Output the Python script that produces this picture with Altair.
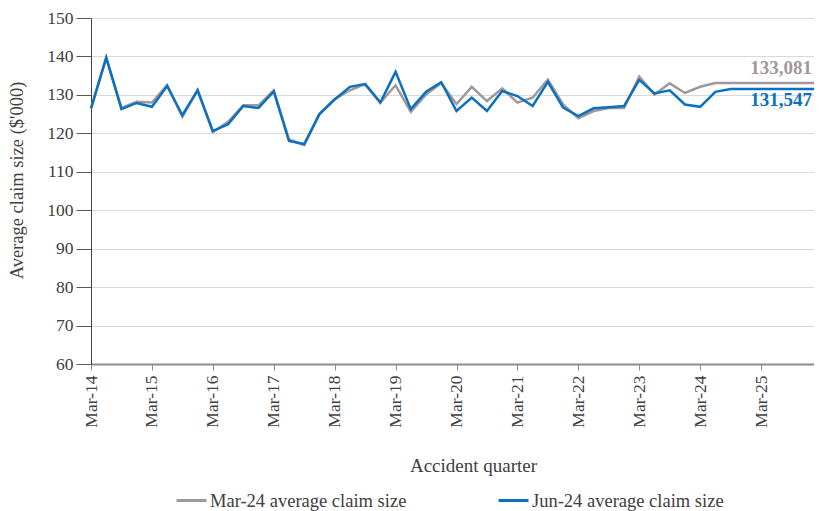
import altair as alt
import pandas as pd

# Quarter categories (Mar-14 .. Mar-26)
months = ["Mar", "Jun", "Sep", "Dec"]
quarters = [f"{m}-{y:02d}" for y in range(14, 27) for m in months][:49]
year_ticks = [q for q in quarters if q.startswith("Mar")]

series_names = ["Mar-24 average claim size", "Jun-24 average claim size"]
series_colors = ["#A0989B", "#0B70BE"]

mar24 = [126.5, 139.7, 126.6, 128.2, 128.0, 132.6, 124.3, 131.3, 120.3, 123.0,
         127.3, 127.3, 131.2, 118.4, 116.9, 125.0, 128.9, 131.2, 132.8, 128.0,
         132.5, 125.6, 130.1, 133.1, 127.6, 132.1, 128.4, 131.7, 128.0, 129.3,
         134.0, 127.5, 123.9, 125.8, 126.6, 126.6, 134.8, 130.1, 133.0, 130.5,
         132.1, 133.081, 133.081, 133.081, 133.081, 133.081, 133.081, 133.081, 133.081]
jun24 = [126.5, 139.7, 126.3, 127.9, 126.9, 132.3, 124.7, 131.2, 120.6, 122.4,
         127.1, 126.6, 130.9, 118.0, 117.2, 125.0, 128.8, 132.1, 132.8, 128.0,
         136.0, 126.3, 130.8, 133.3, 125.8, 129.3, 125.8, 131.0, 129.7, 127.1,
         133.4, 126.7, 124.5, 126.5, 126.8, 127.1, 133.9, 130.4, 131.2, 127.5,
         126.9, 130.8, 131.547, 131.547, 131.547, 131.547, 131.547, 131.547, 131.547]

end_labels = ["133,081", "131,547"]

df = pd.DataFrame({
    "quarter": quarters * 2,
    "value": mar24 + jun24,
    "series": [series_names[0]] * len(quarters) + [series_names[1]] * len(quarters),
})

FONT = "Liberation Serif"
TXT = "#404040"

x_enc = alt.X(
    "quarter:O", sort=quarters,
    scale=alt.Scale(type="point", padding=0),
    axis=alt.Axis(
        values=year_ticks, labelAngle=-90, labelFont=FONT, labelFontSize=17.5,
        labelColor=TXT, labelPadding=5, tickSize=6, tickColor="#8C8C8C",
        domainColor="#8C8C8C", domainWidth=2, grid=False,
        title="Accident quarter", titleFont=FONT, titleFontSize=19,
        titleFontWeight="normal", titleColor=TXT,
        titleX=382, titleY=101, titleAlign="center", titleBaseline="middle",
    ),
)
y_enc = alt.Y(
    "value:Q",
    scale=alt.Scale(domain=[60, 150], nice=False, zero=False),
    axis=alt.Axis(
        values=list(range(60, 151, 10)), labelOverlap=False,
        labelFont=FONT, labelFontSize=17.5,
        labelColor=TXT, labelPadding=3, tickSize=15, tickColor="#595959",
        domainColor="#404040", domainWidth=1, gridColor="#D9D9D9", gridWidth=1,
        title="Average claim size ($'000)", titleFont=FONT, titleFontSize=18.5,
        titleFontWeight="normal", titleColor=TXT, titleAngle=-90,
        titleX=-75, titleY=162, titleAlign="center", titleBaseline="middle",
    ),
)

lines = alt.Chart(df).mark_line(strokeWidth=2.5).encode(
    x=x_enc,
    y=y_enc,
    color=alt.Color(
        "series:N",
        scale=alt.Scale(domain=series_names, range=series_colors),
        legend=alt.Legend(
            title=None, orient="none", direction="horizontal",
            legendX=84, legendY=466, symbolType="stroke", symbolSize=900,
            symbolStrokeWidth=3, labelFont=FONT, labelFontSize=18.5,
            labelColor=TXT, labelOffset=2, columnPadding=85, labelLimit=400,
        ),
    ),
    order=alt.Order("series:N", sort="descending"),
)

lab_df = pd.DataFrame({
    "quarter": [quarters[-1], quarters[-1]],
    "value": [mar24[-1], jun24[-1]],
    "label": end_labels,
    "series": series_names,
})

grey_lab = alt.Chart(lab_df.iloc[[0]]).mark_text(
    align="right", baseline="middle", dx=-10, dy=-15,
    font=FONT, fontSize=19, fontWeight="bold", color=series_colors[0],
).encode(x=x_enc, y=y_enc, text="label:N")

blue_lab = alt.Chart(lab_df.iloc[[1]]).mark_text(
    align="right", baseline="middle", dx=-10, dy=11,
    font=FONT, fontSize=19, fontWeight="bold", color=series_colors[1],
).encode(x=x_enc, y=y_enc, text="label:N")

chart = alt.layer(lines, grey_lab, blue_lab).properties(
    width=731, height=346,
    autosize=alt.AutoSizeParams(type="none"),
    padding={"left": 83, "top": 10, "right": -8, "bottom": 150},
).configure_view(stroke=None).configure(background="white")

chart.save("out.html", embed_options={"renderer": "svg", "actions": False})
